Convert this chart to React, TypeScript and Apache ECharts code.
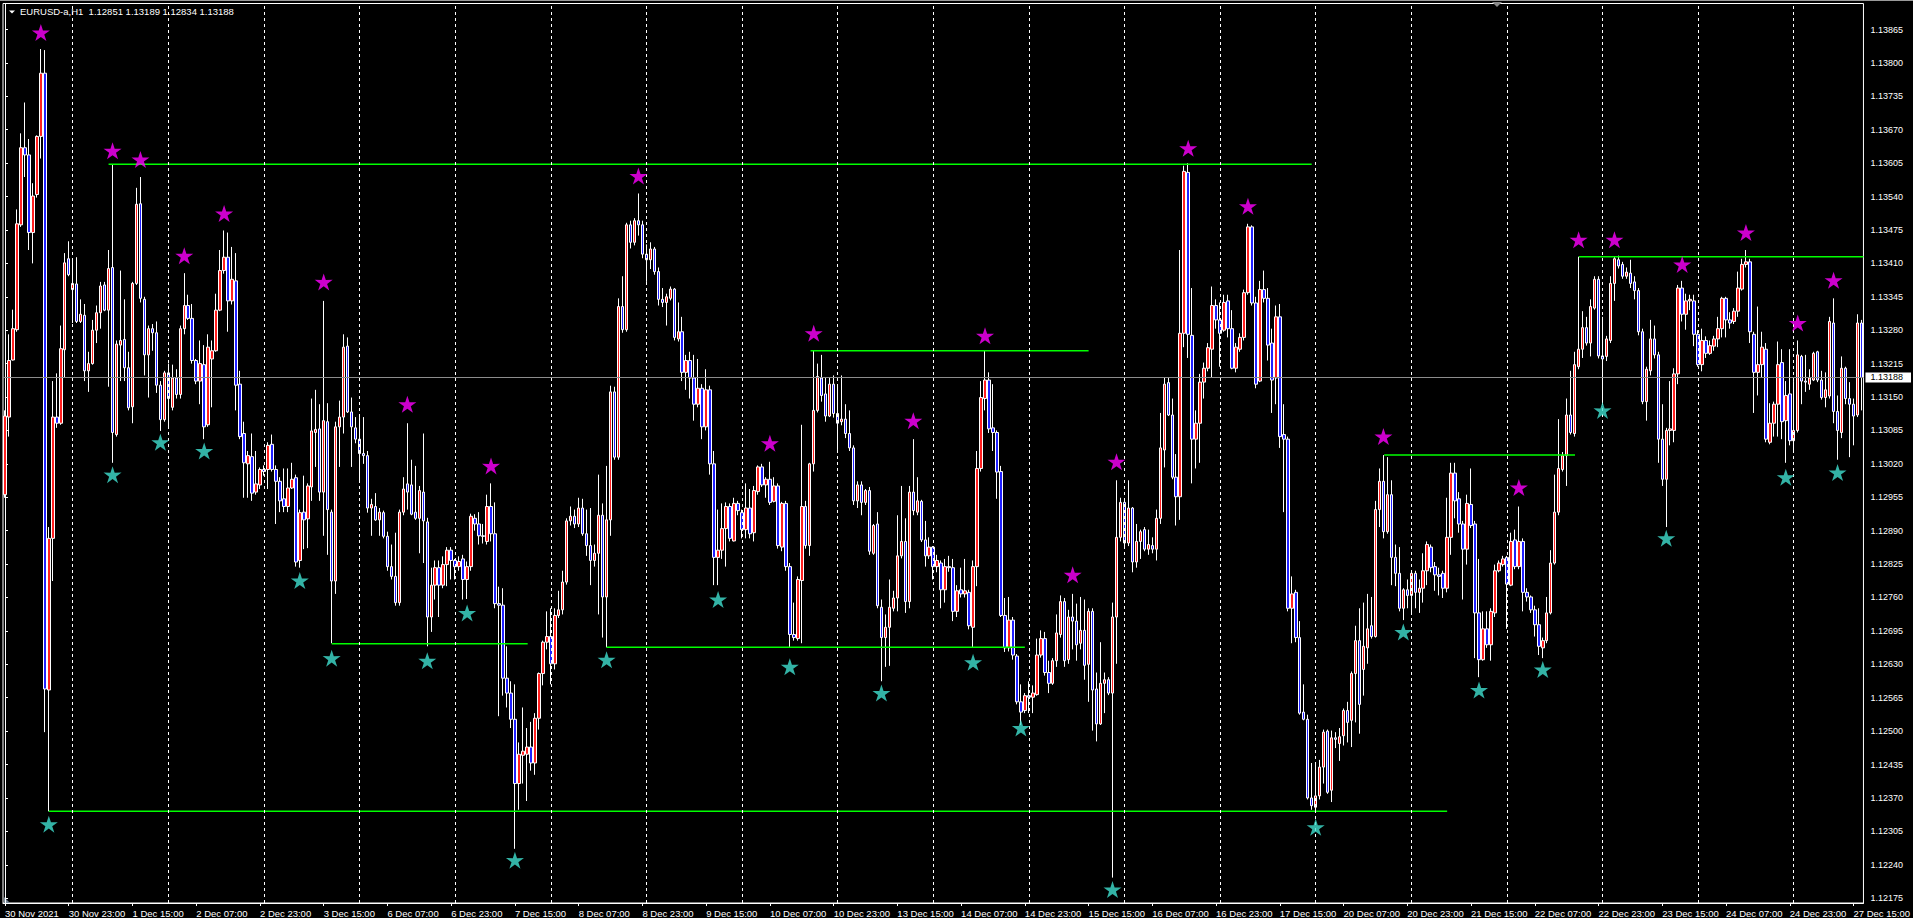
import React, { useEffect, useRef } from 'react';
import * as echarts from 'echarts';

// ---------- data ----------
const symbolName = 'EURUSD-a,H1';
const headerQuote = ['1.12851', '1.13189', '1.12834', '1.13188'];
const firstLabel = '30 Nov 2021';
const tradingDays = ['30 Nov', '1 Dec', '2 Dec', '3 Dec', '6 Dec', '7 Dec', '8 Dec', '9 Dec', '10 Dec', '13 Dec', '14 Dec', '15 Dec', '16 Dec', '17 Dec', '20 Dec', '21 Dec', '22 Dec', '23 Dec', '24 Dec', '27 Dec'];
const firstHour = 7;
const lastHour = 17;

// rows: [open, close, low, high]
const week1 = [
[1.12960,1.13113,1.12954,1.13124],[1.13111,1.13221,1.13073,1.13272],[1.13222,1.13283,1.13221,1.13320],[1.13281,1.13487,1.13277,1.13515],
[1.13485,1.13635,1.13481,1.13663],[1.13635,1.13621,1.13578,1.13723],[1.13621,1.13470,1.13436,1.13652],[1.13470,1.13541,1.13410,1.13566],
[1.13544,1.13657,1.13538,1.13659],[1.13657,1.13780,1.13614,1.13827],[1.13780,1.12582,1.12498,1.13825],[1.12580,1.12875,1.12344,1.12897],
[1.12875,1.13111,1.12792,1.13181],[1.13111,1.13099,1.13090,1.13196],[1.13099,1.13244,1.13096,1.13289],[1.13242,1.13411,1.13187,1.13430],
[1.13419,1.13388,1.13385,1.13453],[1.13359,1.13371,1.13294,1.13419],[1.13370,1.13297,1.13294,1.13422],[1.13297,1.13311,1.13294,1.13340],
[1.13309,1.13201,1.13181,1.13331],[1.13201,1.13215,1.13160,1.13238],[1.13215,1.13280,1.13213,1.13300],[1.13280,1.13314,1.13255,1.13328],
[1.13314,1.13366,1.13283,1.13374],[1.13368,1.13319,1.13317,1.13374],[1.13319,1.13400,1.13170,1.13436],[1.13402,1.13081,1.13022,1.13603],
[1.13077,1.13253,1.13073,1.13260],[1.13251,1.13260,1.13181,1.13396],[1.13262,1.13207,1.13181,1.13340],[1.13207,1.13129,1.13124,1.13238],
[1.13131,1.13371,1.13099,1.13374],[1.13371,1.13525,1.13368,1.13557],[1.13526,1.13342,1.13334,1.13578],[1.13340,1.13232,1.13192,1.13345],
[1.13232,1.13283,1.13149,1.13289],[1.13283,1.13275,1.13240,1.13292],[1.13275,1.13173,1.13158,1.13297],[1.13173,1.13106,1.13084,1.13181],
[1.13106,1.13197,1.13102,1.13201],[1.13197,1.13147,1.13092,1.13215],[1.13130,1.13187,1.13124,1.13213],[1.13187,1.13155,1.13147,1.13204],
[1.13155,1.13283,1.13147,1.13289],[1.13283,1.13328,1.13272,1.13391],[1.13328,1.13303,1.13300,1.13349],[1.13303,1.13221,1.13215,1.13331],
[1.13221,1.13181,1.13175,1.13224],[1.13181,1.13215,1.13136,1.13260],[1.13213,1.13092,1.13068,1.13251],[1.13096,1.13247,1.13092,1.13272],
[1.13224,1.13240,1.13130,1.13260],[1.13240,1.13319,1.13238,1.13351],[1.13319,1.13396,1.13317,1.13436],[1.13396,1.13422,1.13390,1.13474],
[1.13422,1.13337,1.13277,1.13470],[1.13337,1.13379,1.13330,1.13442],[1.13376,1.13173,1.13124,1.13430],[1.13175,1.13073,1.13068,1.13201],
[1.13079,1.13022,1.12954,1.13102],[1.13020,1.13036,1.12954,1.13045],[1.13034,1.12963,1.12948,1.13079],[1.12965,1.12981,1.12960,1.13045],
[1.12979,1.13009,1.12971,1.13013],[1.13009,1.13005,1.12997,1.13017],[1.13009,1.13056,1.12971,1.13062],[1.13058,1.13009,1.13005,1.13077],
[1.13009,1.12986,1.12903,1.13017],[1.12986,1.12948,1.12926,1.12994],[1.12952,1.12937,1.12926,1.13011],[1.12937,1.12973,1.12926,1.13011],
[1.12973,1.12990,1.12971,1.13022],[1.12993,1.12829,1.12820,1.12999],[1.12832,1.12925,1.12818,1.12931],[1.12926,1.12911,1.12854,1.12997],
[1.12913,1.12977,1.12856,1.12982],[1.12975,1.13084,1.12948,1.13147],[1.13081,1.13087,1.13014,1.13164],[1.13088,1.12965,1.12948,1.13136],
[1.12965,1.13104,1.12880,1.13337],[1.13102,1.12931,1.12843,1.13138],[1.12926,1.12792,1.12671,1.12931],[1.12792,1.13092,1.12767,1.13102],
[1.13092,1.13111,1.13014,1.13143],[1.13111,1.13247,1.13079,1.13272],[1.13249,1.13121,1.13119,1.13266],[1.13121,1.13092,1.13014,1.13149],
[1.13090,1.13068,1.13060,1.13111],
];
const week2 = [
[1.13068,1.13040,1.12988,1.13111],[1.13040,1.13036,1.13020,1.13111],[1.13036,1.12934,1.12925,1.13045],[1.12934,1.12941,1.12880,1.12952],
[1.12937,1.12911,1.12909,1.12963],[1.12911,1.12926,1.12880,1.12934],[1.12925,1.12879,1.12875,1.12929],[1.12879,1.12820,1.12812,1.12888],
[1.12820,1.12801,1.12795,1.12863],[1.12801,1.12750,1.12744,1.12886],[1.12750,1.12926,1.12744,1.12931],[1.12926,1.12971,1.12920,1.12994],
[1.12981,1.12965,1.12931,1.13099],[1.12979,1.12922,1.12920,1.13028],[1.12926,1.12914,1.12911,1.13016],[1.12914,1.12968,1.12846,1.12977],
[1.12965,1.12909,1.12827,1.13079],[1.12907,1.12722,1.12665,1.12915],[1.12722,1.12784,1.12693,1.12818],[1.12784,1.12818,1.12756,1.12832],
[1.12818,1.12784,1.12722,1.12832],[1.12784,1.12824,1.12778,1.12840],[1.12824,1.12852,1.12782,1.12858],[1.12852,1.12832,1.12795,1.12858],
[1.12832,1.12820,1.12795,1.12835],[1.12820,1.12830,1.12812,1.12840],[1.12835,1.12795,1.12756,1.12843],[1.12795,1.12820,1.12757,1.12830],
[1.12820,1.12918,1.12812,1.12923],[1.12914,1.12903,1.12890,1.12922],[1.12903,1.12880,1.12863,1.12926],[1.12880,1.12879,1.12865,1.12903],
[1.12869,1.12937,1.12863,1.12960],[1.12937,1.12884,1.12869,1.12982],[1.12884,1.12748,1.12739,1.12945],[1.12748,1.12745,1.12529,1.12781],
[1.12745,1.12603,1.12569,1.12778],[1.12603,1.12574,1.12546,1.12665],[1.12574,1.12523,1.12506,1.12597],[1.12523,1.12398,1.12271,1.12591],
[1.12398,1.12455,1.12347,1.12478],[1.12453,1.12461,1.12398,1.12546],[1.12455,1.12469,1.12364,1.12506],[1.12469,1.12438,1.12423,1.12518],
[1.12438,1.12525,1.12415,1.12535],[1.12525,1.12612,1.12503,1.12614],[1.12612,1.12673,1.12589,1.12676],[1.12673,1.12684,1.12659,1.12733],
[1.12684,1.12631,1.12591,1.12739],[1.12631,1.12725,1.12620,1.12739],[1.12725,1.12736,1.12720,1.12773],[1.12736,1.12790,1.12727,1.12812],
[1.12790,1.12909,1.12785,1.12914],[1.12909,1.12918,1.12900,1.12937],[1.12918,1.12903,1.12895,1.12931],[1.12903,1.12934,1.12897,1.12954],
[1.12934,1.12884,1.12880,1.12952],[1.12884,1.12861,1.12841,1.12931],[1.12861,1.12832,1.12784,1.12934],[1.12832,1.12846,1.12820,1.12863],
[1.12846,1.12920,1.12727,1.12999],[1.12920,1.12761,1.12682,1.12943],[1.12761,1.12911,1.12663,1.13016],[1.12911,1.13160,1.12880,1.13172],
[1.13160,1.13033,1.13028,1.13170],[1.13033,1.13326,1.13028,1.13342],[1.13326,1.13281,1.13275,1.13385],[1.13281,1.13485,1.13277,1.13489],
[1.13485,1.13451,1.13439,1.13493],[1.13451,1.13493,1.13445,1.13498],[1.13493,1.13485,1.13464,1.13546],[1.13485,1.13428,1.13420,1.13493],
[1.13428,1.13417,1.13374,1.13447],[1.13417,1.13438,1.13399,1.13451],[1.13438,1.13394,1.13388,1.13442],[1.13394,1.13340,1.13328,1.13402],
[1.13340,1.13334,1.13325,1.13362],[1.13334,1.13345,1.13289,1.13351],[1.13342,1.13360,1.13338,1.13365],[1.13360,1.13266,1.13260,1.13362],
[1.13263,1.13277,1.13258,1.13334],[1.13277,1.13198,1.13181,1.13306],[1.13198,1.13221,1.13164,1.13232],[1.13221,1.13187,1.13147,1.13238],
[1.13187,1.13136,1.13104,1.13232],[1.13136,1.13167,1.13130,1.13224],[1.13167,1.13092,1.13068,1.13175],[1.13092,1.13164,1.13085,1.13204],
[1.13164,1.13020,1.12999,1.13172],[1.13020,1.12838,1.12784,1.13045],[1.12838,1.12852,1.12784,1.12931],[1.12852,1.12894,1.12835,1.12943],
[1.12894,1.12937,1.12820,1.12945],[1.12937,1.12875,1.12869,1.12943],[1.12870,1.12943,1.12869,1.12954],[1.12943,1.12929,1.12920,1.12948],
[1.12925,1.12892,1.12875,1.12931],[1.12892,1.12934,1.12875,1.12982],[1.12934,1.12884,1.12875,1.12971],[1.12886,1.12968,1.12869,1.12977],
[1.12966,1.13014,1.12960,1.13017],[1.13014,1.12979,1.12975,1.13020],[1.12979,1.12990,1.12954,1.12994],[1.12990,1.12945,1.12940,1.13024],
[1.12947,1.12977,1.12945,1.12994],[1.12977,1.12861,1.12855,1.12982],[1.12858,1.12943,1.12850,1.12946],[1.12943,1.12820,1.12812,1.12948],
[1.12820,1.12688,1.12662,1.12827],[1.12688,1.12682,1.12676,1.12750],[1.12680,1.12795,1.12676,1.12801],[1.12793,1.12937,1.12671,1.13096],
[1.12937,1.12861,1.12855,1.12948],[1.12861,1.13020,1.12841,1.13022],[1.13020,1.13124,1.13005,1.13240],[1.13124,1.13190,1.13120,1.13215],
[1.13187,1.13153,1.13141,1.13232],[1.13156,1.13113,1.13102,1.13187],[1.13113,1.13175,1.13111,1.13187],[1.13175,1.13118,1.13110,1.13192],
];
const week3 = [
[1.13118,1.13099,1.13047,1.13170],[1.13102,1.13107,1.13095,1.13192],[1.13107,1.13079,1.13070,1.13136],[1.13079,1.13051,1.13045,1.13124],
[1.13051,1.12948,1.12940,1.13056],[1.12948,1.12979,1.12934,1.12986],[1.12979,1.12945,1.12920,1.12986],[1.12945,1.12968,1.12940,1.12971],
[1.12968,1.12850,1.12843,1.12975],[1.12846,1.12900,1.12843,1.12903],[1.12903,1.12744,1.12739,1.12926],[1.12741,1.12682,1.12597,1.12756],
[1.12682,1.12702,1.12625,1.12727],[1.12702,1.12741,1.12627,1.12795],[1.12739,1.12759,1.12733,1.12773],[1.12759,1.12841,1.12733,1.12920],
[1.12841,1.12869,1.12836,1.12977],[1.12869,1.12752,1.12730,1.12914],[1.12752,1.12965,1.12739,1.12977],[1.12965,1.12929,1.12920,1.13068],
[1.12926,1.12948,1.12920,1.12994],[1.12947,1.12872,1.12868,1.12950],[1.12872,1.12841,1.12820,1.12909],[1.12841,1.12858,1.12835,1.12877],
[1.12858,1.12820,1.12795,1.12860],[1.12820,1.12832,1.12809,1.12843],[1.12827,1.12775,1.12739,1.12832],[1.12775,1.12820,1.12750,1.12835],
[1.12820,1.12818,1.12810,1.12841],[1.12818,1.12733,1.12714,1.12835],[1.12733,1.12773,1.12722,1.12784],[1.12775,1.12767,1.12760,1.12818],
[1.12767,1.12773,1.12760,1.12835],[1.12770,1.12705,1.12698,1.12775],[1.12702,1.12820,1.12662,1.12832],[1.12820,1.13011,1.12782,1.13045],
[1.13011,1.13149,1.13005,1.13181],[1.13147,1.13183,1.13124,1.13240],[1.13183,1.13088,1.13080,1.13198],[1.13090,1.13081,1.13045,1.13175],
[1.13081,1.13004,1.12952,1.13085],[1.13005,1.12725,1.12722,1.13016],[1.12725,1.12662,1.12654,1.12759],[1.12662,1.12716,1.12655,1.12761],
[1.12716,1.12648,1.12639,1.12722],[1.12646,1.12557,1.12552,1.12650],[1.12557,1.12537,1.12512,1.12591],[1.12540,1.12569,1.12535,1.12574],
[1.12569,1.12566,1.12535,1.12597],[1.12566,1.12574,1.12535,1.12589],[1.12571,1.12648,1.12569,1.12680],[1.12648,1.12680,1.12643,1.12696],
[1.12680,1.12614,1.12608,1.12693],[1.12614,1.12593,1.12574,1.12637],[1.12593,1.12637,1.12590,1.12642],[1.12637,1.12691,1.12625,1.12727],
[1.12688,1.12752,1.12682,1.12764],[1.12752,1.12637,1.12625,1.12759],[1.12639,1.12722,1.12631,1.12736],[1.12722,1.12714,1.12659,1.12767],
[1.12714,1.12668,1.12637,1.12748],[1.12671,1.12696,1.12659,1.12761],[1.12696,1.12628,1.12600,1.12756],[1.12630,1.12733,1.12557,1.12739],
[1.12733,1.12580,1.12501,1.12739],[1.12582,1.12514,1.12480,1.12614],[1.12514,1.12593,1.12512,1.12673],[1.12593,1.12600,1.12535,1.12614],
[1.12600,1.12574,1.12570,1.12605],[1.12574,1.12722,1.12215,1.12750],[1.12722,1.12877,1.12631,1.12988],[1.12877,1.12945,1.12869,1.12954],
[1.12945,1.12866,1.12860,1.12948],[1.12866,1.12934,1.12860,1.12988],[1.12934,1.12829,1.12809,1.12936],[1.12829,1.12869,1.12818,1.12903],
[1.12869,1.12888,1.12835,1.12892],[1.12892,1.12854,1.12850,1.12897],[1.12854,1.12863,1.12843,1.12892],[1.12861,1.12854,1.12846,1.12877],
[1.12854,1.12914,1.12832,1.12931],[1.12914,1.13051,1.12903,1.13119],[1.13047,1.13175,1.13013,1.13187],[1.13178,1.13115,1.13113,1.13187],
[1.13115,1.12994,1.12990,1.13147],[1.12994,1.12956,1.12900,1.13039],[1.12956,1.13274,1.12911,1.13436],[1.13274,1.13589,1.13247,1.13600],
[1.13587,1.13272,1.13226,1.13605],[1.13270,1.13068,1.12982,1.13362],[1.13068,1.13099,1.13011,1.13124],[1.13099,1.13179,1.13022,1.13195],
[1.13179,1.13206,1.13147,1.13217],[1.13206,1.13246,1.13200,1.13255],[1.13243,1.13328,1.13187,1.13365],[1.13328,1.13300,1.13283,1.13340],
[1.13300,1.13274,1.13209,1.13334],[1.13280,1.13334,1.13277,1.13349],[1.13337,1.13283,1.13266,1.13349],[1.13283,1.13206,1.13204,1.13319],
[1.13206,1.13247,1.13198,1.13255],[1.13243,1.13266,1.13238,1.13274],[1.13266,1.13353,1.13260,1.13359],[1.13353,1.13481,1.13349,1.13487],
[1.13481,1.13333,1.13328,1.13484],[1.13333,1.13175,1.13167,1.13345],[1.13181,1.13359,1.13179,1.13376],[1.13359,1.13342,1.13334,1.13396],
[1.13342,1.13251,1.13221,1.13362],[1.13255,1.13183,1.13119,1.13283],[1.13187,1.13306,1.13136,1.13328],[1.13306,1.13073,1.13051,1.13331],
[1.13077,1.13068,1.12926,1.13136],[1.13068,1.12739,1.12733,1.13073],[1.12739,1.12767,1.12671,1.12801],[1.12770,1.12682,1.12673,1.12775],
[1.12682,1.12535,1.12532,1.12714],[1.12537,1.12523,1.12521,1.12591],[1.12523,1.12370,1.12367,1.12532],[1.12370,1.12355,1.12347,1.12438],
];
const week4 = [
[1.12352,1.12374,1.12344,1.12438],[1.12374,1.12430,1.12367,1.12444],[1.12430,1.12498,1.12398,1.12503],[1.12500,1.12381,1.12378,1.12503],
[1.12385,1.12487,1.12362,1.12501],[1.12487,1.12484,1.12467,1.12498],[1.12476,1.12489,1.12442,1.12506],[1.12491,1.12540,1.12472,1.12544],
[1.12540,1.12517,1.12478,1.12557],[1.12521,1.12612,1.12469,1.12616],[1.12612,1.12676,1.12517,1.12705],[1.12676,1.12552,1.12495,1.12739],
[1.12620,1.12665,1.12569,1.12750],[1.12662,1.12699,1.12631,1.12767],[1.12705,1.12684,1.12680,1.12761],[1.12684,1.12931,1.12682,1.12948],
[1.12931,1.12986,1.12897,1.13011],[1.12986,1.12888,1.12875,1.13037],[1.12888,1.12960,1.12884,1.13033],[1.12960,1.12838,1.12784,1.12988],
[1.12838,1.12807,1.12782,1.12863],[1.12807,1.12739,1.12733,1.12858],[1.12739,1.12775,1.12716,1.12778],[1.12775,1.12764,1.12739,1.12795],
[1.12764,1.12807,1.12730,1.12809],[1.12807,1.12770,1.12739,1.12812],[1.12770,1.12778,1.12730,1.12795],[1.12778,1.12812,1.12750,1.12846],
[1.12812,1.12863,1.12784,1.12869],[1.12858,1.12818,1.12809,1.12863],[1.12820,1.12804,1.12773,1.12829],[1.12804,1.12801,1.12764,1.12818],
[1.12807,1.12778,1.12759,1.12812],[1.12778,1.12877,1.12770,1.12954],[1.12877,1.13002,1.12843,1.13022],[1.13002,1.12948,1.12914,1.13022],
[1.12952,1.12903,1.12886,1.12965],[1.12903,1.12854,1.12756,1.12909],[1.12854,1.12943,1.12824,1.12960],[1.12941,1.12900,1.12895,1.13011],
[1.12903,1.12730,1.12642,1.12909],[1.12730,1.12639,1.12605,1.12835],[1.12639,1.12699,1.12637,1.12733],[1.12699,1.12668,1.12662,1.12733],
[1.12668,1.12733,1.12637,1.12739],[1.12730,1.12812,1.12722,1.12824],[1.12812,1.12827,1.12809,1.12832],[1.12824,1.12835,1.12820,1.12841],
[1.12838,1.12786,1.12699,1.12841],[1.12784,1.12869,1.12782,1.12886],[1.12872,1.12820,1.12815,1.12892],[1.12820,1.12869,1.12815,1.12937],
[1.12869,1.12770,1.12733,1.12875],[1.12770,1.12761,1.12752,1.12778],[1.12761,1.12736,1.12730,1.12764],[1.12736,1.12707,1.12684,1.12744],
[1.12707,1.12665,1.12648,1.12739],[1.12662,1.12676,1.12642,1.12682],[1.12676,1.12730,1.12671,1.12761],[1.12730,1.12827,1.12727,1.12852],
[1.12827,1.12926,1.12824,1.12999],[1.12926,1.13011,1.12920,1.13107],[1.13009,1.13036,1.13005,1.13043],[1.13036,1.13115,1.12977,1.13147],
[1.13115,1.13081,1.13077,1.13201],[1.13079,1.13213,1.13073,1.13238],[1.13209,1.13243,1.13204,1.13423],[1.13243,1.13285,1.13226,1.13317],
[1.13285,1.13255,1.13250,1.13306],[1.13255,1.13326,1.13229,1.13340],[1.13323,1.13379,1.13320,1.13385],[1.13379,1.13230,1.13225,1.13385],
[1.13230,1.13224,1.13136,1.13306],[1.13229,1.13263,1.13220,1.13269],[1.13260,1.13371,1.13255,1.13385],[1.13371,1.13419,1.13337,1.13424],
[1.13417,1.13405,1.13400,1.13425],[1.13408,1.13385,1.13380,1.13413],[1.13385,1.13393,1.13380,1.13402],[1.13391,1.13371,1.13362,1.13417],
[1.13374,1.13357,1.13340,1.13385],[1.13357,1.13277,1.13270,1.13362],[1.13277,1.13141,1.13136,1.13283],[1.13141,1.13204,1.13104,1.13209],
[1.13201,1.13263,1.13192,1.13300],[1.13263,1.13232,1.13225,1.13289],[1.13232,1.13068,1.13022,1.13238],[1.13068,1.12990,1.12977,1.13136],
[1.12990,1.13085,1.12897,1.13090],[1.13085,1.13088,1.13056,1.13181],[1.13085,1.13195,1.13062,1.13206],[1.13195,1.13362,1.13175,1.13368],
[1.13362,1.13311,1.13297,1.13376],[1.13311,1.13337,1.13281,1.13351],[1.13337,1.13340,1.13319,1.13349],[1.13337,1.13272,1.13249,1.13349],
[1.13272,1.13213,1.13209,1.13280],[1.13213,1.13260,1.13200,1.13283],[1.13260,1.13235,1.13226,1.13268],[1.13235,1.13250,1.13232,1.13260],
[1.13249,1.13263,1.13240,1.13269],[1.13263,1.13283,1.13247,1.13306],[1.13283,1.13342,1.13266,1.13345],[1.13342,1.13300,1.13266,1.13345],
[1.13300,1.13294,1.13283,1.13315],[1.13297,1.13317,1.13292,1.13323],[1.13317,1.13362,1.13306,1.13394],[1.13360,1.13408,1.13357,1.13419],
[1.13408,1.13413,1.13402,1.13436],[1.13413,1.13277,1.13255,1.13419],[1.13272,1.13198,1.13119,1.13277],[1.13198,1.13213,1.13153,1.13326],
[1.13213,1.13247,1.13187,1.13277],[1.13243,1.13068,1.13062,1.13255],[1.13062,1.13099,1.13058,1.13138],[1.13099,1.13136,1.13073,1.13141],
[1.13136,1.13213,1.13073,1.13258],[1.13217,1.13102,1.13068,1.13243],[1.13104,1.13153,1.13022,1.13181],[1.13156,1.13065,1.13056,1.13243],
];
const week5 = [
[1.13065,1.13085,1.13045,1.13181],[1.13085,1.13232,1.13081,1.13260],[1.13229,1.13181,1.13136,1.13232],[1.13181,1.13179,1.13160,1.13232],
[1.13175,1.13187,1.13164,1.13204],[1.13183,1.13235,1.13181,1.13238],[1.13238,1.13183,1.13179,1.13240],[1.13183,1.13149,1.13145,1.13201],
[1.13149,1.13164,1.13130,1.13198],[1.13152,1.13297,1.13147,1.13306],[1.13294,1.13122,1.13099,1.13342],[1.13122,1.13085,1.13028,1.13153],
[1.13081,1.13206,1.13070,1.13229],[1.13206,1.13147,1.13136,1.13209],[1.13147,1.13136,1.13033,1.13179],[1.13136,1.13113,1.13056,1.13147],
[1.13115,1.13294,1.13111,1.13311],[1.13294,1.13188,1.13124,1.13300],
];

// price-axis tick labels
const priceTicks = [1.12175, 1.12240, 1.12305, 1.12370, 1.12435, 1.12500, 1.12565, 1.12630, 1.12695, 1.12760, 1.12825, 1.12890, 1.12955, 1.13020, 1.13085, 1.13150, 1.13215, 1.13280, 1.13345, 1.13410, 1.13475, 1.13540, 1.13605, 1.13670, 1.13735, 1.13800, 1.13865];
const currentPrice = 1.13188;

// fractal markers: [bar index, price]
const topStars = [[9,1.13859],[27,1.13629],[34,1.13612],[45,1.13425],[55,1.13507],[80,1.13374],[101,1.13136],[122,1.13016],[159,1.13580],[192,1.13060],[203,1.13274],[228,1.13104],[246,1.13269],[268,1.12804],[279,1.13024],[297,1.13634],[312,1.13521],[346,1.13073],[380,1.12974],[395,1.13456],[404,1.13456],[421,1.13408],[437,1.13470],[450,1.13294],[459,1.13377]];
const bottomStars = [[11,1.12319],[27,1.12999],[39,1.13062],[50,1.13045],[74,1.12793],[82,1.12642],[106,1.12637],[116,1.12730],[128,1.12249],[151,1.12639],[179,1.12756],[197,1.12625],[220,1.12574],[243,1.12634],[255,1.12506],[278,1.12192],[329,1.12313],[351,1.12693],[370,1.12580],[386,1.12620],[401,1.13124],[417,1.12875],[447,1.12994],[460,1.13003]];

// horizontal levels: [from bar, to bar, price]
const levels = [[26,328,1.13603],[11,362,1.12344],[82,131.2,1.12670],[151,256,1.12663],[202.2,272,1.13240],[346.2,394.1,1.13037],[395.1,466.5,1.13423]];

// ---------- chart ----------
const FONT = 'Liberation Sans';
const STAR = 'path://M50 0 L61.2 34.6 L97.6 34.5 L68.1 55.9 L79.4 90.5 L50 69 L20.6 90.5 L31.9 55.9 L2.4 34.5 L38.8 34.6 Z';

export default function App() {
  const ref = useRef<HTMLDivElement>(null);
  useEffect(() => {
    if (!ref.current) return;
    const chart = echarts.init(ref.current, null, { renderer: 'svg' });
    const candles = [...week1, ...week2, ...week3, ...week4, ...week5];
    const categories: string[] = [];
    tradingDays.forEach((d, di) => {
      const h0 = di === 0 ? firstHour : 0;
      const h1 = di === tradingDays.length - 1 ? lastHour : 23;
      for (let h = h0; h <= h1; h++) categories.push(`${d} ${String(h).padStart(2, '0')}:00`);
    });
    const dayStarts: number[] = [];
    categories.forEach((c, i) => { if (i > 0 && c.endsWith(' 00:00')) dayStarts.push(i); });
    const showLabel = (i: number) => i === 0 || (i >= 16 && (i - 16) % 16 === 0);
    const n = categories.length;

    const option: any = {
      animation: false,
      backgroundColor: '#000000',
      textStyle: { fontFamily: FONT },
      grid: { left: 3, right: 42, top: 3.5, bottom: 14.5, show: true, borderColor: '#ffffff', borderWidth: 1, backgroundColor: 'transparent' },
      xAxis: [
        {
          type: 'category', data: categories, boundaryGap: true,
          axisLine: { show: true, lineStyle: { color: '#ffffff', width: 1 } },
          axisTick: { show: true, alignWithLabel: true, interval: (i: number) => showLabel(i), length: 3, lineStyle: { color: '#ffffff' } },
          axisLabel: {
            interval: (i: number) => showLabel(i), align: 'left', color: '#ffffff', fontSize: 9.5, fontFamily: FONT, margin: 5,
            formatter: (v: string, i: number) => (i === 0 ? firstLabel : v),
          },
          splitLine: { show: false },
        },
        { type: 'value', min: -0.5, max: n - 0.5, show: false },
      ],
      yAxis: {
        type: 'value', position: 'right', min: 1.121656, max: 1.139156, scale: true,
        axisLine: { show: true, lineStyle: { color: '#ffffff', width: 1 } },
        axisTick: { show: true, length: 3, customValues: priceTicks, lineStyle: { color: '#ffffff' } },
        axisLabel: { customValues: priceTicks, color: '#ffffff', fontSize: 9, fontFamily: FONT, margin: 7, formatter: (v: number) => v.toFixed(5) },
        splitLine: { show: false },
      },
      series: [
        {
          type: 'line', xAxisIndex: 1, data: [], silent: true, z: 1,
          markLine: {
            silent: true, symbol: ['none', 'none'], animation: false,
            label: { show: false },
            lineStyle: { color: '#ffffff', width: 1, type: [3, 3] },
            data: dayStarts.map((d) => ({ xAxis: d })),
          },
        },
        {
          type: 'candlestick', data: candles, barWidth: 3, z: 3,
          itemStyle: { color: '#ff2020', color0: '#2020ff', borderColor: '#ffffff', borderColor0: '#ffffff', borderWidth: 1 },
          markLine: {
            silent: true, symbol: ['none', 'none'], precision: 5,
            lineStyle: { color: '#8c8c8c', width: 1, type: 'solid' },
            label: { show: true, position: 'end', distance: 2, formatter: () => currentPrice.toFixed(5), color: '#000000', backgroundColor: '#ffffff', fontSize: 9, fontFamily: FONT, padding: [1, 8, 0, 5] },
            data: [{ yAxis: currentPrice }],
          },
        },
        ...levels.map((lv) => ({
          type: 'line', xAxisIndex: 1, silent: true, symbol: 'none', z: 4,
          lineStyle: { color: '#00ff00', width: 1.5 },
          data: [[lv[0], lv[2]], [lv[1], lv[2]]],
        })),
        {
          type: 'scatter', xAxisIndex: 1, silent: true, z: 5, symbol: STAR, symbolSize: [18, 17],
          itemStyle: { color: '#ff00ff' }, data: topStars,
        },
        {
          type: 'scatter', xAxisIndex: 1, silent: true, z: 5, symbol: STAR, symbolSize: [18, 17],
          itemStyle: { color: '#40e0d0' }, data: bottomStars,
        },
      ],
      graphic: [
        { type: 'line', shape: { x1: 0, y1: 0.5, x2: 1913, y2: 0.5 }, style: { stroke: '#9a9a9a', lineWidth: 1 }, silent: true },
        { type: 'polygon', shape: { points: [[9, 10.5], [15, 10.5], [12, 13.5]] }, style: { fill: '#ffffff' }, silent: true },
        {
          type: 'text', left: 20, top: 6, silent: true,
          style: { text: `${symbolName}\u00a0 ${headerQuote.join(' ')}`, fill: '#ffffff', font: `9.5px "${FONT}"` },
        },
        { type: 'polygon', shape: { points: [[1492, 2], [1502, 2], [1497, 7]] }, style: { fill: '#8a8a8a' }, silent: true },
        { type: 'polygon', shape: { points: [[4, 897], [4, 903], [10, 903]] }, style: { fill: '#7a8a9a' }, silent: true },
      ],
    };
    chart.setOption(option);
    return () => chart.dispose();
  }, []);
  return <div ref={ref} style={{ position: 'fixed', left: 0, top: 0, width: 1913, height: 918, background: '#000' }} />;
}
